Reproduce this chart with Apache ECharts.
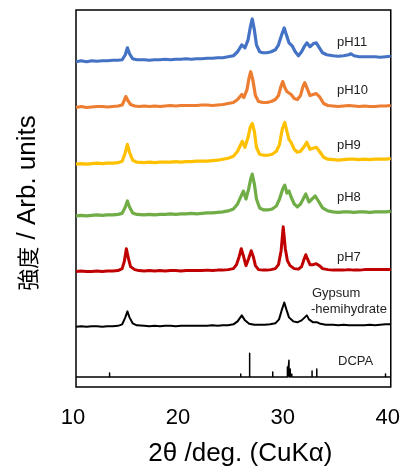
<!DOCTYPE html>
<html><head><meta charset="utf-8">
<script src="https://cdn.jsdelivr.net/npm/echarts@6/dist/echarts.min.js"></script>
<style>html,body{margin:0;padding:0;background:#fff}#c{width:403px;height:472px}</style>
</head><body><div id="c"></div>
<script>
// 2θ (deg), intensity (arb., stacked offsets included)
const pH11 = [[10,327],[10.5,328],[11,327],[11.5,328],[12,327.5],[12.5,328],[13,328],[13.5,328.5],[14,328.5],[14.4,329],[14.7,334],[14.9,341],[15.1,335],[15.4,330],[15.8,329],[16.5,329],[17,328.5],[17.5,329],[18,329],[18.5,329.5],[19,329],[19.5,329.5],[20,329.5],[20.5,330],[21,329.5],[21.5,330],[22,330],[22.5,330.5],[23,330.5],[23.5,331],[24,331],[24.5,332],[25,333],[25.4,337],[25.8,344],[26.1,341],[26.4,349],[26.6,361],[26.8,370],[27.0,359],[27.2,344],[27.5,337],[27.8,336],[28.2,336],[28.6,337],[29.0,339],[29.3,344],[29.6,354],[29.85,361],[30.05,354],[30.3,346],[30.6,343],[30.9,337],[31.2,333],[31.5,337],[31.8,343],[32.0,346],[32.3,342],[32.6,345],[32.9,346],[33.2,341],[33.5,336],[33.9,334],[34.5,333],[35,332.5],[35.5,333],[36,334],[36.2,335],[36.5,333],[37,332],[37.5,332],[38,332],[38.5,332],[39,331.5],[39.5,332],[40,332.5]];
const pH10 = [[10,281],[10.5,282],[11,281],[11.5,281.5],[12,282],[12.5,282],[13,281.5],[13.5,282],[14,282.5],[14.4,283.5],[14.6,288],[14.75,292],[14.95,288],[15.2,284],[15.6,282.5],[16,282],[16.5,282.5],[17,282],[17.5,282.5],[18,282],[18.5,282.5],[19,283],[19.5,282.5],[20,283],[20.5,283],[21,283],[21.5,283],[22,283.5],[22.5,283.5],[23,283],[23.5,283.5],[24,284],[24.5,285],[25,286],[25.4,289],[25.8,294],[26.0,291],[26.3,299],[26.5,311],[26.65,317],[26.85,309],[27.1,293],[27.4,287],[27.8,286],[28.2,286],[28.6,287],[29.0,289],[29.3,293],[29.5,301],[29.7,307],[29.9,301],[30.1,297],[30.25,299],[30.5,294],[30.8,290],[31.1,289],[31.4,293],[31.6,301],[31.8,306],[32.0,301],[32.3,293],[32.6,294],[32.9,295],[33.2,292],[33.6,285],[34,283],[34.5,282.5],[35,282],[35.5,282.5],[36,283],[36.5,282.5],[37,282],[37.5,282.5],[38,282],[38.5,282],[39,282.5],[39.5,282.5],[40,283]];
const pH9 = [[10,224],[10.5,224.5],[11,224],[11.5,224.5],[12,225],[12.5,224.5],[13,225],[13.5,225],[14,225.5],[14.4,227],[14.65,234],[14.9,244],[15.1,236],[15.4,228],[15.8,226],[16.5,225.5],[17,226],[17.5,225.5],[18,226],[18.5,226],[19,226],[19.5,226.5],[20,226],[20.5,226.5],[21,226.5],[21.5,227],[22,227],[22.5,227],[23,227.5],[23.5,228],[24,229],[24.5,230],[25,232],[25.4,237],[25.85,247],[26.1,241],[26.4,251],[26.6,261],[26.8,265],[27.0,257],[27.2,241],[27.5,234],[27.9,233],[28.3,233],[28.7,234],[29.1,237],[29.4,244],[29.65,259],[29.9,266],[30.1,257],[30.3,249],[30.5,246],[30.8,239],[31.1,236],[31.4,237],[31.7,241],[32.0,246],[32.3,239],[32.6,240],[32.9,241],[33.2,237],[33.6,231],[34,229],[34.5,228.5],[35,228],[35.5,228.5],[36,229],[36.5,229],[37,228.5],[37.5,229],[38,228.5],[38.5,229],[39,229],[39.5,229],[40,229.5]];
const pH8 = [[10,172],[10.5,172.5],[11,172],[11.5,172.5],[12,173],[12.5,172.5],[13,173],[13.5,173],[14,173.5],[14.4,174.5],[14.7,181],[14.9,187],[15.1,181],[15.4,175],[15.8,173.5],[16.5,173],[17,173.5],[17.5,173],[18,173.5],[18.5,173.5],[19,174],[19.5,173.5],[20,174],[20.5,174],[21,174.5],[21.5,174],[22,174.5],[22.5,175],[23,175],[23.5,175.5],[24,176],[24.5,177],[25,179],[25.4,184],[25.95,197],[26.2,189],[26.45,199],[26.65,209],[26.8,214],[27.0,204],[27.2,189],[27.5,180],[27.9,178],[28.3,178],[28.7,179],[29.1,182],[29.4,189],[29.7,199],[29.9,203],[30.1,195],[30.3,197],[30.5,191],[30.8,184],[31.1,181],[31.4,184],[31.7,190],[31.9,194],[32.2,186],[32.5,189],[32.8,192],[33.1,187],[33.5,180],[34,177],[34.5,176],[35,175.5],[35.5,176],[36,176],[36.5,175.5],[37,176],[37.5,176],[38,175.5],[38.5,176],[39,176],[39.5,176],[40,176.5]];
const pH7 = [[10,116],[10.5,116.5],[11,116],[11.5,116],[12,116.5],[12.5,116],[13,116.5],[13.5,116.5],[14,117],[14.4,119],[14.6,126],[14.8,139],[15.0,129],[15.2,121],[15.6,118],[16,117],[16.5,116.5],[17,117],[17.5,116.5],[18,117],[18.5,116.5],[19,117],[19.5,117],[20,116.5],[20.5,117],[21,117],[21.5,117],[22,117],[22.5,117.5],[23,117],[23.5,117.5],[24,117.5],[24.5,118],[25,119],[25.3,123],[25.55,131],[25.75,139],[25.95,132],[26.2,122],[26.45,129],[26.7,137],[26.9,131],[27.1,122],[27.4,118],[27.8,117.5],[28.2,117.5],[28.6,118],[29.0,119],[29.3,123],[29.55,137],[29.75,161],[29.95,139],[30.15,127],[30.4,122],[30.8,119],[31.2,118.5],[31.5,121],[31.75,129],[31.9,133],[32.05,129],[32.3,123],[32.6,123],[32.9,124],[33.2,122],[33.5,119],[34,118],[34.5,117.5],[35,117.5],[35.5,117.5],[36,118],[36.5,117.5],[37,117.5],[37.5,118],[38,118],[38.5,118],[39,118],[39.5,118],[40,118]];
const gypsumHemihydrate = [[10,60.5],[10.5,61],[11,60.5],[11.5,61],[12,61],[12.5,60.5],[13,61],[13.5,61],[14,61.5],[14.4,63],[14.7,70],[14.9,76],[15.1,70],[15.4,64],[15.8,62],[16.5,61.5],[17,61],[17.5,61.5],[18,61],[18.5,61.5],[19,61.5],[19.5,61],[20,61.5],[20.5,61.5],[21,61.5],[21.5,61.5],[22,61.5],[22.5,61.5],[23,62],[23.5,61.5],[24,62],[24.5,62],[25,63],[25.4,66],[25.8,72],[26.1,67],[26.5,63.5],[27,62.5],[27.5,62.5],[28,62.5],[28.5,63],[29,64],[29.35,68],[29.6,77],[29.85,85],[30.05,78],[30.3,70],[30.7,66],[31.1,65],[31.5,67],[31.8,70],[32.0,72],[32.2,68],[32.6,65],[33.0,65],[33.3,63.5],[33.8,62.5],[34.5,62.5],[35,62],[35.5,62.5],[36,62],[36.5,62],[37,62],[37.5,62],[38,62.5],[38.5,62],[39,62.5],[39.5,63],[40,63]];
const dcpaPos    = [13.2, 20.25, 25.7, 26.55, 27.1, 28.75, 30.15, 30.3, 30.42, 30.57, 31.27, 32.5, 32.95, 36.2, 39.5];
const dcpaHeight = [4,    2,     3,    24,    2,    5,     10,    17,   8,     3,     2,     6,    8,     2,    3];
const dcpaBase = 10;
const xTicks = [10, 20, 30, 40];
const labels = ['pH11','pH10','pH9','pH8','pH7','Gypsum','-hemihydrate','DCPA'];

// stick pattern built from the arrays
const dcpaData = [[10, dcpaBase]];
dcpaPos.forEach((p, i) => { dcpaData.push([p, dcpaBase], [p, dcpaBase + dcpaHeight[i]], [p, dcpaBase]); });
dcpaData.push([40, dcpaBase]);

const FONT = '"Liberation Sans", Arial, "Noto Sans CJK JP", sans-serif';
const CJK = '"Noto Sans CJK JP", sans-serif';
const chart = echarts.init(document.getElementById('c'), null, {renderer: 'canvas'});
function line(name, data, color, w) {
  return {name, type: 'line', data, showSymbol: false, symbol: 'none', animation: false,
    lineStyle: {color, width: w, join: 'round'}, silent: true, z: 3};
}
const labelPos = [[337,42],[337,90],[337,145],[337,197],[337,257],[312,293],[311,309],[338,361]];
chart.setOption({
  backgroundColor: '#fff',
  animation: false,
  grid: {left: 76, right: 11, top: 10, bottom: 83, show: true, borderColor: '#000', borderWidth: 1.5, backgroundColor: 'transparent'},
  xAxis: {type: 'value', min: 10, max: 40, interval: 10,
    name: '2θ /deg. (CuKα)', nameLocation: 'middle', nameGap: 54,
    nameTextStyle: {fontFamily: FONT, fontSize: 26, color: '#000', padding: [0, 0, 0, 14]},
    axisLine: {show: false}, axisTick: {show: false}, splitLine: {show: false},
    axisLabel: {fontFamily: FONT, fontSize: 22, color: '#000', margin: 20, padding: [0, 6, 0, 0],
      customValues: xTicks}},
  yAxis: {type: 'value', min: 0, max: 379,
    name: '{c|強度}{l| / Arb. units}', nameLocation: 'middle', nameGap: 35, nameRotate: 90,
    nameTextStyle: {color: '#000', padding: [0, 9, 0, 0],
      rich: {c: {fontFamily: CJK, fontSize: 22, color: '#000'}, l: {fontFamily: FONT, fontSize: 26, color: '#000'}}},
    axisLine: {show: false}, axisTick: {show: false}, splitLine: {show: false}, axisLabel: {show: false}},
  series: [
    line('pH11', pH11, '#4472C4', 3.2),
    line('pH10', pH10, '#ED7D31', 3.2),
    line('pH9', pH9, '#FFC000', 3.2),
    line('pH8', pH8, '#70AD47', 3.2),
    line('pH7', pH7, '#C00000', 3),
    line('Gypsum-hemihydrate', gypsumHemihydrate, '#000000', 2),
    line('DCPA', dcpaData, '#000000', 1.5)
  ],
  graphic: labels.map((t, i) => ({type: 'text', x: labelPos[i][0], y: labelPos[i][1],
    style: {text: t, fontFamily: FONT, fontSize: 13, fill: '#222', verticalAlign: 'middle', align: 'left'}, z: 10}))
});
</script></body></html>
